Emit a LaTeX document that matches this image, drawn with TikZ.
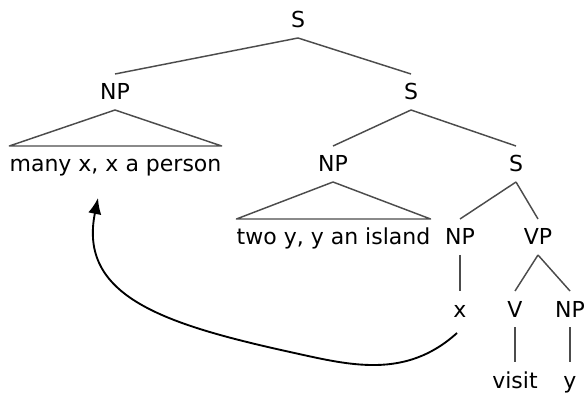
\documentclass[tikz,border=0pt]{standalone}
\usepackage{fontspec}
\setmainfont{DejaVu Sans}
\usetikzlibrary{arrows.meta}
\begin{document}
\begin{tikzpicture}[x=0.75pt,y=-0.75pt,
    cat/.style={anchor=base,text height=12pt,text depth=0pt,inner xsep=0pt,inner ysep=7.3pt},
    br/.style={black!70,line width=1.1pt,line join=round},
    moved/.style={black,line width=1.4pt,-{Latex[length=12pt,width=10pt]}},
    every node/.style={font=\fontsize{16.5}{20}\selectfont}]
  \useasboundingbox (0,0) rectangle (585,395);
  % categories, row by row
  \node[cat] (s0)    at (298,28)    {S};
  \node[cat] (np0)   at (115,100)   {NP};
  \node[cat] (s1)    at (411,100)   {S};
  \node[cat] (many)  at (115.5,172) {many x, x a person};
  \node[cat] (np1)   at (333,172)   {NP};
  \node[cat] (s2)    at (516,172)   {S};
  \node[cat] (two)   at (333.5,245) {two y, y an island};
  \node[cat] (np2)   at (460,245)   {NP};
  \node[cat] (vp)    at (538,245)   {VP};
  \node[cat] (x)     at (460,317)   {x};
  \node[cat] (v)     at (515,317)   {V};
  \node[cat] (np3)   at (570,317)   {NP};
  \node[cat] (visit) at (515,388)   {visit};
  \node[cat] (y)     at (570,388)   {y};
  % branches
  \foreach \a/\b in {s0/np0,s0/s1,s1/np1,s1/s2,s2/np2,s2/vp,np2/x,
      vp/v,vp/np3,v/visit,np3/y}
    \draw[br] (\a.south) -- (\b.north);
  % roofs over the quantifier phrases
  \foreach \a/\b in {np0/many,np1/two}
    \draw[br] (\b.north west) -- (\a.south) -- (\b.north east) -- cycle;
  % the raised x
  \coordinate (from) at (457,333);
  \coordinate (tip)  at (98,198);
  \draw[moved] (from) .. controls (405,380) and (349,365) .. (290,352)
    .. controls (163,324) and (78,296) .. (tip);
\end{tikzpicture}
\end{document}
